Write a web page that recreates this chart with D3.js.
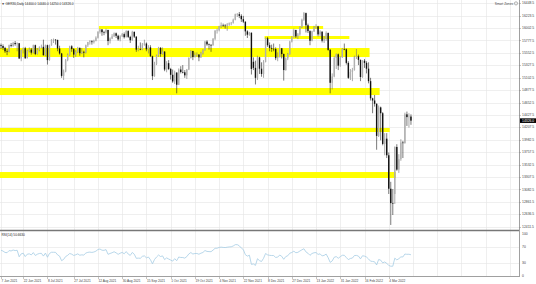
<!DOCTYPE html>
<html>
<head>
<meta charset="utf-8">
<script src="https://cdn.jsdelivr.net/npm/d3@7"></script>
<style>
  html, body { margin: 0; padding: 0; background: #fff; overflow: hidden; }
  svg { display: block; font-family: "Liberation Sans", Arial, sans-serif; }
</style>
</head>
<body>
<div id="chart"></div>
<script>
// ---- data (GER30 daily) ----
const symbol = "GER30,Daily";
const firstDay = "2021-06-07";
const lastDay = "2022-03-21";
const closedDays = ["2021-12-24", "2021-12-31"];

// one line per week
const opens = [
  15690,15675,15640,15580,15570, 15690,15675,15730,15710,15725, 15450,15600,15635,15455,15590,
  15610,15555,15690,15530,15605, 15650,15660,15510,15690,15420, 15690,15790,15790,15785,15630,
  15540,15135,15215,15420,15515, 15670,15620,15520,15570,15640, 15545,15570,15555,15690,15745,
  15760,15745,15770,15825,15935, 15975,15925,15920,15965,15765, 15810,15850,15905,15860,15795,
  15850,15890,15835,15945,15840, 15780,15930,15845,15610,15620, 15610,15700,15720,15615,15650,
  15490,15130,15350,15505,15645, 15530,15575,15250,15365,15260, 15155,15035,15195,14975,15250,
  15205,15200,15145,15250,15460, 15585,15475,15515,15520,15470, 15545,15600,15755,15705,15695,
  15690,15805,15955,15960,16030, 16055,16045,16040,16065,16085, 16095,16150,16250,16250,16220,
  16160,16115,15940,15880,15915, 15390,15280,15100,15470,15265, 15170,15385,15815,15690,15640,
  15625,15620,15455,15475,15635, 15530,15240,15450,15525, 15755,15835,15965,15850,
  15885,16020,16150,16270,16050, 15945,15770,15940,16010,16030, 15885,15935,15770,15810,15910,
  15605,15010,15125,15460,15525, 15320,15470,15620,15615,15370, 15100,15205,15240,15480,15490,
  15425,15115,15410,15370,15265, 15040,14730,14690,14630,14050, 14565,14460,13905,14000,13700,
  13095,12835,13000,13850,13440, 13630,13930,13920,14440,14390, 14400
];
const highs = [
  15720,15705,15660,15620,15700, 15730,15750,15765,15740,15730, 15610,15650,15660,15610,15650,
  15640,15700,15700,15640,15670, 15700,15790,15700,15700,15700, 15800,15810,15800,15790,15680,
  15550,15250,15440,15540,15680, 15690,15640,15600,15660,15650, 15640,15590,15700,15750,15780,
  15780,15790,15850,15940,15990, 15980,15950,15990,15970,15830, 15890,15920,15920,15880,15870,
  15910,15920,15960,15960,15860, 15950,15940,15850,15680,15740, 15730,15790,15740,15690,15690,
  15500,15390,15520,15660,15650, 15650,15580,15400,15420,15280, 15250,15230,15200,15270,15310,
  15330,15240,15260,15470,15600, 15590,15560,15560,15530,15570, 15620,15770,15780,15720,15710,
  15820,15960,15990,16040,16100, 16080,16070,16090,16100,16110, 16170,16260,16270,16290,16250,
  16220,16120,15960,15930,15920, 15470,15410,15500,15480,15380, 15420,15830,15840,15740,15700,
  15720,15650,15560,15710,15640, 15540,15470,15550,15770, 15850,15990,15970,15910,
  16030,16170,16290,16280,16080, 15960,15950,16040,16070,16040, 15960,15940,15860,15940,15920,
  15620,15180,15490,15540,15540, 15490,15640,15720,15630,15400, 15260,15280,15500,15620,15520,
  15430,15420,15440,15400,15380, 15100,14740,14790,14640,14600, 14580,14480,14100,14100,13750,
  13220,13090,13860,13900,13720, 13990,13960,14470,14490,14460, 14440
];
const lows = [
  15620,15605,15550,15510,15560, 15650,15660,15680,15580,15440, 15400,15540,15440,15450,15560,
  15520,15540,15510,15520,15580, 15630,15500,15490,15340,15410, 15680,15730,15700,15580,15520,
  15100,15060,15200,15400,15500, 15570,15460,15480,15550,15500, 15530,15470,15540,15660,15700,
  15700,15720,15760,15810,15900, 15860,15870,15900,15690,15720, 15800,15840,15820,15770,15760,
  15840,15810,15830,15820,15730, 15770,15820,15570,15580,15600, 15600,15680,15580,15540,15480,
  15060,15120,15330,15480,15480, 15520,15220,15200,15240,15070, 15010,14990,14820,14970,15180,
  15180,15100,15080,15240,15450, 15420,15470,15480,15400,15460, 15520,15590,15680,15610,15570,
  15680,15780,15900,15940,16000, 16020,15990,15950,16040,16050, 16080,16140,16200,16180,16110,
  16090,15860,15820,15860,15160, 15240,14980,15060,15170,15120, 15100,15380,15660,15580,15570,
  15580,15420,15400,15470,15450, 15050,15230,15420,15520, 15740,15830,15820,15800,
  15860,16000,16130,15920,15910, 15690,15760,15930,15990,15850, 15850,15740,15730,15770,15590,
  14820,14890,15110,15260,15240, 15300,15460,15600,15340,15080, 15060,15040,15230,15440,15330,
  15040,15100,15280,15180,15000, 14690,14460,14580,13800,14030, 13970,13880,13700,13650,13000,
  12440,12620,12820,13420,13380, 13600,13650,13910,14230,14200, 14250
];
const closes = [
  15675,15640,15580,15570,15690, 15675,15730,15710,15725,15450, 15600,15635,15455,15590,15610,
  15555,15690,15530,15605,15650, 15660,15510,15690,15420,15690, 15790,15790,15785,15630,15540,
  15135,15215,15420,15515,15670, 15620,15520,15570,15640,15545, 15570,15555,15690,15745,15760,
  15745,15770,15825,15935,15975, 15925,15920,15965,15765,15810, 15850,15905,15860,15795,15850,
  15890,15835,15945,15840,15780, 15930,15845,15610,15620,15610, 15700,15720,15615,15650,15490,
  15130,15350,15505,15645,15530, 15575,15250,15365,15260,15155, 15035,15195,14975,15250,15205,
  15200,15145,15250,15460,15585, 15475,15515,15520,15470,15545, 15600,15755,15705,15695,15690,
  15805,15955,15960,16030,16055, 16045,16040,16065,16085,16095, 16150,16250,16250,16220,16160,
  16115,15940,15880,15915,15260, 15280,15100,15470,15265,15170, 15385,15815,15690,15640,15625,
  15620,15455,15475,15635,15530, 15240,15450,15525,15755, 15835,15965,15850,15885,
  16020,16150,16270,16050,15945, 15770,15940,16010,16030,15885, 15935,15770,15810,15910,15605,
  15010,15125,15460,15525,15320, 15470,15620,15615,15370,15100, 15205,15240,15480,15490,15425,
  15115,15410,15370,15265,15040, 14730,14690,14630,14050,14565, 14460,13905,14000,13700,13095,
  12835,12830,13850,13440,13630, 13930,13920,14440,14390,14400, 14326
];
// closes before the first visible bar, only used to start the RSI
const rsiWarmup = [15397,15386,15114,15370,15438,15438,15466,15451,15406,15520,15421,15568,15602,15633,15693];
const rsiPeriod = 14;
const rsiLevels = [100, 70, 30, 0];

const priceTicks = [16448.5,16223.5,16002.5,15777.5,15552.5,15327.5,15102.5,14877.5,14652.5,14427.5,
  14207.5,13982.5,13757.5,13532.5,13307.5,13082.5,12861.5,12636.5,12411.5];
const dateTicks = ["7 Jun 2021","22 Jun 2021","8 Jul 2021","27 Jul 2021","12 Aug 2021","30 Aug 2021",
  "15 Sep 2021","1 Oct 2021","19 Oct 2021","4 Nov 2021","22 Nov 2021","8 Dec 2021","27 Dec 2021",
  "13 Jan 2022","31 Jan 2022","16 Feb 2022","4 Mar 2022"];

// Smart Zones (price band, first and last day)
const zoneTop    = [16037, 15856, 15639, 14916, 14193, 13397];
const zoneBottom = [15983, 15802, 15476, 14789, 14120, 13289];
const zoneFrom   = ["2021-08-13","2021-12-07","2021-06-07","2021-06-07","2021-06-07","2021-06-07"];
const zoneTo     = ["2022-01-18","2022-02-04","2022-02-18","2022-02-25","2022-03-04","2022-03-09"];

// ---- layout ----
const W = 536, H = 284;
const plotRight = 519;
const mainTop = 0, mainBottom = 229;
const rsiTop = 232, rsiBottom = 276;
const emptySlots = 53; // blank bars to the right of the last candle

const fmtKey = d3.timeFormat("%Y-%m-%d");
const parseKey = d3.timeParse("%Y-%m-%d");
const parseTick = d3.timeParse("%d %b %Y");

const days = d3.timeDay.range(parseKey(firstDay), d3.timeDay.offset(parseKey(lastDay), 1))
  .filter(d => d.getDay() % 6 !== 0 && !closedDays.includes(fmtKey(d)));
const dayIndex = new Map(days.map((d, i) => [fmtKey(d), i]));
const n = days.length;

const bars = days.map((d, i) => ({ i, date: d, o: opens[i], h: highs[i], l: lows[i], c: closes[i] }));

// RSI (Wilder)
const allCloses = rsiWarmup.concat(closes);
const rsi = [];
let avgG = 0, avgL = 0;
for (let k = 1; k < allCloses.length; k++) {
  const ch = allCloses[k] - allCloses[k - 1];
  const g = Math.max(ch, 0), l = Math.max(-ch, 0);
  if (k <= rsiPeriod) {
    avgG += g / rsiPeriod; avgL += l / rsiPeriod;
  } else {
    avgG = (avgG * (rsiPeriod - 1) + g) / rsiPeriod;
    avgL = (avgL * (rsiPeriod - 1) + l) / rsiPeriod;
  }
  const j = k - rsiWarmup.length;
  if (k >= rsiPeriod && j >= 0) rsi.push({ i: j, v: avgL === 0 ? 100 : 100 - 100 / (1 + avgG / avgL) });
}

// ---- scales ----
const x = d3.scaleLinear().domain([-0.5, n - 0.5 + emptySlots]).range([0, plotRight]);
const y = d3.scaleLinear().domain([12367, 16507]).range([mainBottom, mainTop]);
const yR = d3.scaleLinear().domain([0, 100]).range([275.7, 234.3]);

const svg = d3.select("#chart").append("svg").attr("width", W).attr("height", H);

// grid
const tickIdx = dateTicks.map(t => dayIndex.get(fmtKey(parseTick(t))));
const gridIdx = tickIdx.concat(d3.range(tickIdx[tickIdx.length - 1] + 12, n + emptySlots, 12));
const grid = svg.append("g").attr("stroke", "#e4e4e4").attr("stroke-width", 0.6);
grid.selectAll(".gv").data(gridIdx).join("line")
  .attr("x1", d => Math.round(x(d)) + 0.5).attr("x2", d => Math.round(x(d)) + 0.5)
  .attr("y1", mainTop).attr("y2", rsiBottom);
grid.selectAll(".gh").data(priceTicks).join("line")
  .attr("x1", 0).attr("x2", plotRight)
  .attr("y1", d => Math.round(y(d)) + 0.5).attr("y2", d => Math.round(y(d)) + 0.5);
grid.selectAll(".gr").data([70, 30]).join("line")
  .attr("x1", 0).attr("x2", plotRight)
  .attr("y1", d => Math.round(yR(d)) + 0.5).attr("y2", d => Math.round(yR(d)) + 0.5);

// zones
svg.append("g").selectAll("rect").data(zoneTop).join("rect")
  .attr("x", (d, k) => x(dayIndex.get(zoneFrom[k]) - 0.5))
  .attr("width", (d, k) => x(dayIndex.get(zoneTo[k]) + 0.5) - x(dayIndex.get(zoneFrom[k]) - 0.5))
  .attr("y", d => y(d))
  .attr("height", (d, k) => y(zoneBottom[k]) - y(d))
  .attr("fill", "#ffff00");

// candles
const cg = svg.append("g");
cg.selectAll(".wick").data(bars).join("line")
  .attr("x1", d => x(d.i)).attr("x2", d => x(d.i))
  .attr("y1", d => y(d.h)).attr("y2", d => y(d.l))
  .attr("stroke", d => d.c >= d.o ? "#707070" : "#222")
  .attr("stroke-width", 0.6);
cg.selectAll(".body").data(bars).join("rect")
  .attr("x", d => x(d.i) - 0.7).attr("width", 1.4)
  .attr("y", d => y(Math.max(d.o, d.c)))
  .attr("height", d => Math.max(0.6, Math.abs(y(d.o) - y(d.c))))
  .attr("fill", d => d.c >= d.o ? "#b0b0b0" : "#111");

// RSI line
svg.append("path").datum(rsi)
  .attr("fill", "none").attr("stroke", "#a6cde4").attr("stroke-width", 0.8)
  .attr("d", d3.line().x(d => x(d.i)).y(d => yR(d.v)));

// frames
svg.append("line").attr("x1", 0).attr("x2", plotRight).attr("y1", 230.5).attr("y2", 230.5)
  .attr("stroke", "#777").attr("stroke-width", 1.4);
svg.append("line").attr("x1", 0).attr("x2", plotRight).attr("y1", rsiBottom + 0.5).attr("y2", rsiBottom + 0.5)
  .attr("stroke", "#888").attr("stroke-width", 0.8);
svg.append("line").attr("x1", plotRight + 0.5).attr("x2", plotRight + 0.5).attr("y1", 0).attr("y2", rsiBottom + 1)
  .attr("stroke", "#888").attr("stroke-width", 0.8);

// price axis
const pa = svg.append("g").attr("font-size", 3.4).attr("fill", "#444");
pa.selectAll("text").data(priceTicks).join("text")
  .attr("x", plotRight + 3).attr("y", d => y(d)).attr("dy", "0.35em")
  .text(d => d.toFixed(1));
pa.selectAll("line").data(priceTicks).join("line")
  .attr("x1", plotRight).attr("x2", plotRight + 2)
  .attr("y1", d => Math.round(y(d)) + 0.5).attr("y2", d => Math.round(y(d)) + 0.5)
  .attr("stroke", "#888").attr("stroke-width", 0.5);

// current price box
const last = bars[n - 1];
svg.append("rect").attr("x", plotRight + 1).attr("y", y(last.c) - 2.3).attr("width", W - plotRight - 1).attr("height", 4.6)
  .attr("fill", "#000");
svg.append("text").attr("x", plotRight + 3).attr("y", y(last.c)).attr("dy", "0.35em")
  .attr("font-size", 3.4).attr("fill", "#fff").text(last.c.toFixed(1));

// RSI axis
svg.append("g").attr("font-size", 3.4).attr("fill", "#444")
  .selectAll("text").data(rsiLevels).join("text")
  .attr("x", plotRight + 3).attr("y", d => yR(d)).attr("dy", "0.35em").text(d => d);

// date axis
const da = svg.append("g").attr("font-size", 3.2).attr("fill", "#444");
da.selectAll("text").data(dateTicks).join("text")
  .attr("x", (d, k) => x(tickIdx[k]) + 0.5).attr("y", 282).text(d => d);
da.selectAll("line").data(tickIdx).join("line")
  .attr("x1", d => Math.round(x(d)) + 0.5).attr("x2", d => Math.round(x(d)) + 0.5)
  .attr("y1", rsiBottom + 1).attr("y2", rsiBottom + 3)
  .attr("stroke", "#888").attr("stroke-width", 0.5);

// captions
svg.append("text").attr("x", 1.5).attr("y", 5).attr("font-size", 3.2).attr("fill", "#222")
  .text("\u25BC " + symbol + " " + [last.o, last.h, last.l, last.c].map(v => v.toFixed(1)).join(" "));
svg.append("text").attr("x", 513).attr("y", 4.5).attr("font-size", 3.2).attr("fill", "#444")
  .attr("text-anchor", "end").text("Smart Zones");
svg.append("circle").attr("cx", 516).attr("cy", 3.4).attr("r", 1.6)
  .attr("fill", "none").attr("stroke", "#666").attr("stroke-width", 0.5);
svg.append("text").attr("x", 1.5).attr("y", 235.5).attr("font-size", 3.2).attr("fill", "#222")
  .text("RSI(" + rsiPeriod + ") " + rsi[rsi.length - 1].v.toFixed(4));
</script>
</body>
</html>
